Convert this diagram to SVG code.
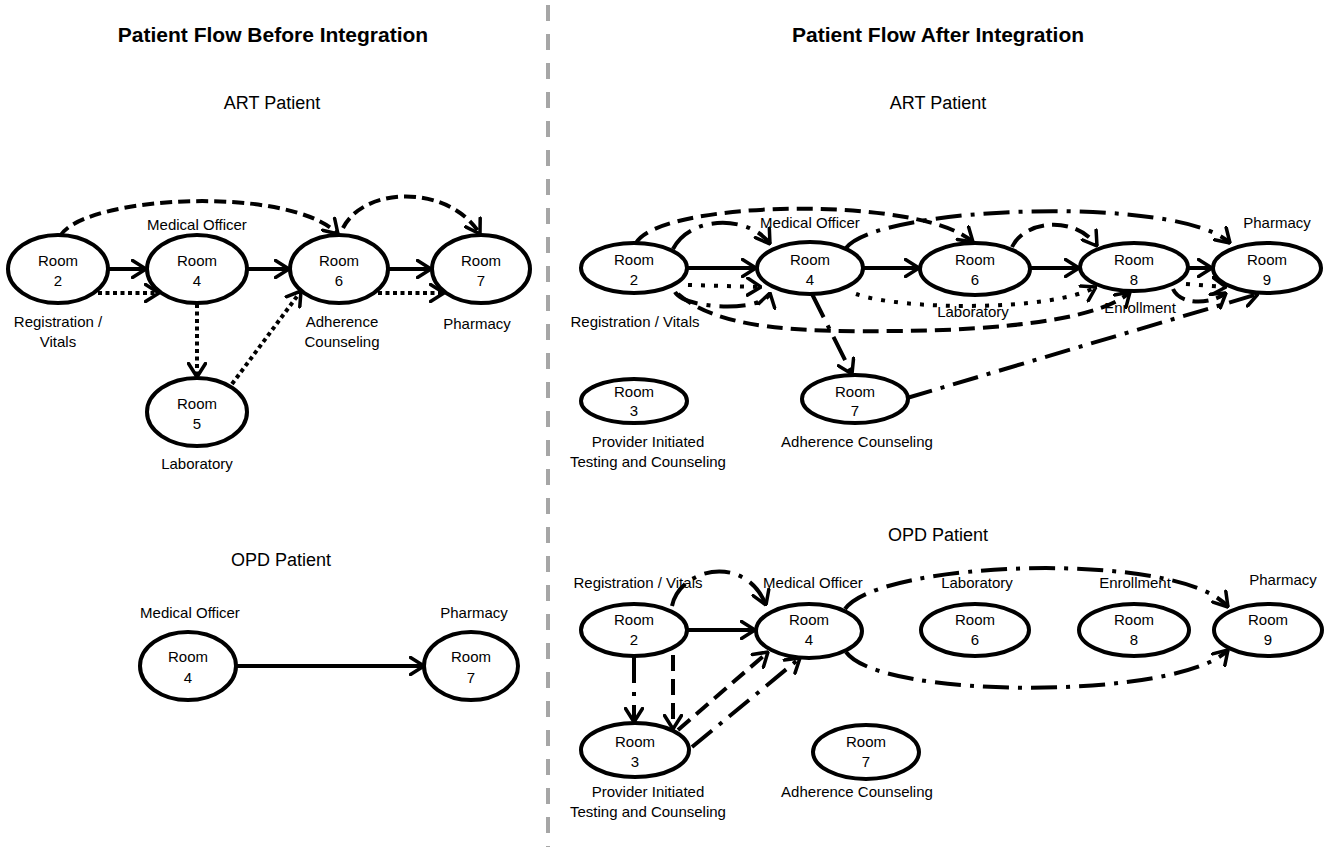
<svg xmlns="http://www.w3.org/2000/svg" width="1324" height="847" viewBox="0 0 1324 847">
<style>
text{font-family:"Liberation Sans",Arial,sans-serif;fill:#000;text-anchor:middle}
.title{font-size:21px;font-weight:bold}
.sub{font-size:18px}
.t{font-size:15px}
.node ellipse{fill:#fff;stroke:#000;stroke-width:4}
.c{fill:none;stroke:#000;stroke-width:4;marker-end:url(#ah)}
.ld{stroke-dasharray:12 6}
.lo{stroke-dasharray:4 3.5}
.rd{stroke-dasharray:16 8}
.ro{stroke-dasharray:4 9}
.dd{stroke-dasharray:26 9 4 9}
.divider{stroke:#a6a6a6;stroke-width:4;stroke-dasharray:16 13}
</style>
<defs>
<marker id="ah" viewBox="0 0 16 20" refX="15" refY="10" markerWidth="16" markerHeight="20" markerUnits="userSpaceOnUse" orient="auto">
<path d="M1.5,1.5 L15,10 L1.5,18.5" fill="none" stroke="#000" stroke-width="3.5" stroke-linecap="round" stroke-linejoin="round"/>
</marker>
</defs>
<rect width="1324" height="847" fill="#fff"/>
<line class="divider" x1="548" y1="5" x2="548" y2="847"/>
<text class="title" x="273" y="42">Patient Flow Before Integration</text>
<text class="title" x="938" y="42">Patient Flow After Integration</text>
<text class="sub" x="272" y="109">ART Patient</text>
<text class="sub" x="938" y="109">ART Patient</text>
<text class="sub" x="281" y="566">OPD Patient</text>
<text class="sub" x="938" y="541">OPD Patient</text>

<g id="connectors">
<!-- left ART -->
<path class="c" d="M108,269 L146,269"/>
<path class="c" d="M247,269 L289,269"/>
<path class="c" d="M388,269 L431,269"/>
<path class="c lo" d="M98,293 L159,293"/>
<path class="c lo" d="M378,293 L444,293"/>
<path class="c lo" d="M197,304 L197,377"/>
<path class="c lo" d="M232,384 L301,291"/>
<path class="c ld" d="M60,236 C85,195 290,185 338,234"/>
<path class="c ld" d="M343,228 C365,185 450,185 480,234"/>
<!-- left OPD -->
<path class="c" d="M236,666 L424,666"/>
<!-- right ART -->
<path class="c" d="M687,268 L756,268"/>
<path class="c" d="M863,268 L919,268"/>
<path class="c" d="M1030,268 L1079,268"/>
<path class="c" d="M1188,268 L1212,268"/>
<path class="c rd" d="M636,243 C660,200 920,195 973,242"/>
<path class="c dd" d="M673,249 C690,215 750,215 770,244"/>
<path class="c dd" d="M846,248 C880,205 1180,195 1230,243"/>
<path class="c rd" d="M1012,247 C1025,220 1075,215 1097,246"/>
<path class="c ro" d="M688,285 L761,287"/>
<path class="c dd" d="M675,292 C685,310 765,312 770,293"/>
<path class="c rd" d="M678,294 C720,330 800,332 900,331 C1000,330 1100,320 1130,292"/>
<path class="c ro" d="M856,294 C900,310 1050,312 1096,287"/>
<path class="c dd" d="M812,294 L852,374"/>
<path class="c dd" d="M907,398 L1258,294"/>
<path class="c rd" d="M1173,289 C1180,305 1210,305 1226,293"/>
<path class="c ro" d="M1186,284 L1226,287"/>
<!-- right OPD -->
<path class="c" d="M688,630 L755,630"/>
<path class="c dd" d="M672,606 C680,568 745,553 766,605"/>
<path class="c dd" d="M634,657 L634,722"/>
<path class="c rd" d="M673,655 L673,729"/>
<path class="c rd" d="M678,730 L768,652"/>
<path class="c dd" d="M692,747 L800,658"/>
<path class="c dd" d="M845,609 C880,560 1180,550 1228,607"/>
<path class="c dd" d="M846,652 C880,700 1180,700 1228,650"/>
</g>

<!-- left ART nodes -->
<g id="L-ART-room2" class="node"><ellipse cx="58" cy="269" rx="50" ry="34"/><text class="t" x="58" y="266">Room</text><text class="t" x="58" y="286">2</text><text class="t" x="58" y="327">Registration /</text><text class="t" x="58" y="347">Vitals</text></g>
<g id="L-ART-room4" class="node"><ellipse cx="197" cy="269" rx="50" ry="34"/><text class="t" x="197" y="266">Room</text><text class="t" x="197" y="286">4</text><text class="t" x="197" y="230">Medical Officer</text></g>
<g id="L-ART-room5" class="node"><ellipse cx="197" cy="412" rx="50" ry="34"/><text class="t" x="197" y="409">Room</text><text class="t" x="197" y="429">5</text><text class="t" x="197" y="469">Laboratory</text></g>
<g id="L-ART-room6" class="node"><ellipse cx="339" cy="269" rx="49" ry="34"/><text class="t" x="339" y="266">Room</text><text class="t" x="339" y="286">6</text><text class="t" x="342" y="327">Adherence</text><text class="t" x="342" y="347">Counseling</text></g>
<g id="L-ART-room7" class="node"><ellipse cx="481" cy="269" rx="49" ry="34"/><text class="t" x="481" y="266">Room</text><text class="t" x="481" y="286">7</text><text class="t" x="477" y="329">Pharmacy</text></g>

<!-- left OPD nodes -->
<g id="L-OPD-room4" class="node"><ellipse cx="188" cy="666" rx="48" ry="34"/><text class="t" x="188" y="662">Room</text><text class="t" x="188" y="683">4</text><text class="t" x="190" y="618">Medical Officer</text></g>
<g id="L-OPD-room7" class="node"><ellipse cx="471" cy="666" rx="47" ry="34"/><text class="t" x="471" y="662">Room</text><text class="t" x="471" y="683">7</text><text class="t" x="474" y="618">Pharmacy</text></g>

<!-- right ART nodes -->
<g id="R-ART-room2" class="node"><ellipse cx="634" cy="268" rx="53" ry="25"/><text class="t" x="634" y="265">Room</text><text class="t" x="634" y="285">2</text><text class="t" x="635" y="327">Registration / Vitals</text></g>
<g id="R-ART-room3" class="node"><ellipse cx="634" cy="401" rx="53" ry="22"/><text class="t" x="634" y="397">Room</text><text class="t" x="634" y="416">3</text><text class="t" x="648" y="447">Provider Initiated</text><text class="t" x="648" y="467">Testing and Counseling</text></g>
<g id="R-ART-room4" class="node"><ellipse cx="810" cy="268" rx="53" ry="26"/><text class="t" x="810" y="265">Room</text><text class="t" x="810" y="285">4</text><text class="t" x="810" y="228">Medical Officer</text></g>
<g id="R-ART-room6" class="node"><ellipse cx="975" cy="269" rx="55" ry="26"/><text class="t" x="975" y="265">Room</text><text class="t" x="975" y="285">6</text><text class="t" x="973" y="317">Laboratory</text></g>
<g id="R-ART-room7" class="node"><ellipse cx="855" cy="399" rx="53" ry="24"/><text class="t" x="855" y="397">Room</text><text class="t" x="855" y="416">7</text><text class="t" x="857" y="447">Adherence Counseling</text></g>
<g id="R-ART-room8" class="node"><ellipse cx="1134" cy="267" rx="54" ry="24"/><text class="t" x="1134" y="265">Room</text><text class="t" x="1134" y="285">8</text><text class="t" x="1140" y="313">Enrollment</text></g>
<g id="R-ART-room9" class="node"><ellipse cx="1267" cy="268" rx="54" ry="25"/><text class="t" x="1267" y="265">Room</text><text class="t" x="1267" y="285">9</text><text class="t" x="1277" y="228">Pharmacy</text></g>

<!-- right OPD nodes -->
<g id="R-OPD-room2" class="node"><ellipse cx="634" cy="630" rx="53" ry="26"/><text class="t" x="634" y="625">Room</text><text class="t" x="634" y="645">2</text><text class="t" x="638" y="588">Registration / Vitals</text></g>
<g id="R-OPD-room3" class="node"><ellipse cx="635" cy="750" rx="54" ry="27"/><text class="t" x="635" y="747">Room</text><text class="t" x="635" y="767">3</text><text class="t" x="648" y="797">Provider Initiated</text><text class="t" x="648" y="817">Testing and Counseling</text></g>
<g id="R-OPD-room4" class="node"><ellipse cx="809" cy="631" rx="53" ry="27"/><text class="t" x="809" y="625">Room</text><text class="t" x="809" y="645">4</text><text class="t" x="813" y="588">Medical Officer</text></g>
<g id="R-OPD-room6" class="node"><ellipse cx="975" cy="630" rx="54" ry="26"/><text class="t" x="975" y="625">Room</text><text class="t" x="975" y="645">6</text><text class="t" x="977" y="588">Laboratory</text></g>
<g id="R-OPD-room7" class="node"><ellipse cx="866" cy="752" rx="53" ry="27"/><text class="t" x="866" y="747">Room</text><text class="t" x="866" y="767">7</text><text class="t" x="857" y="797">Adherence Counseling</text></g>
<g id="R-OPD-room8" class="node"><ellipse cx="1134" cy="630" rx="55" ry="26"/><text class="t" x="1134" y="625">Room</text><text class="t" x="1134" y="645">8</text><text class="t" x="1135" y="588">Enrollment</text></g>
<g id="R-OPD-room9" class="node"><ellipse cx="1268" cy="630" rx="54" ry="26"/><text class="t" x="1268" y="625">Room</text><text class="t" x="1268" y="645">9</text><text class="t" x="1283" y="585">Pharmacy</text></g>
</svg>
